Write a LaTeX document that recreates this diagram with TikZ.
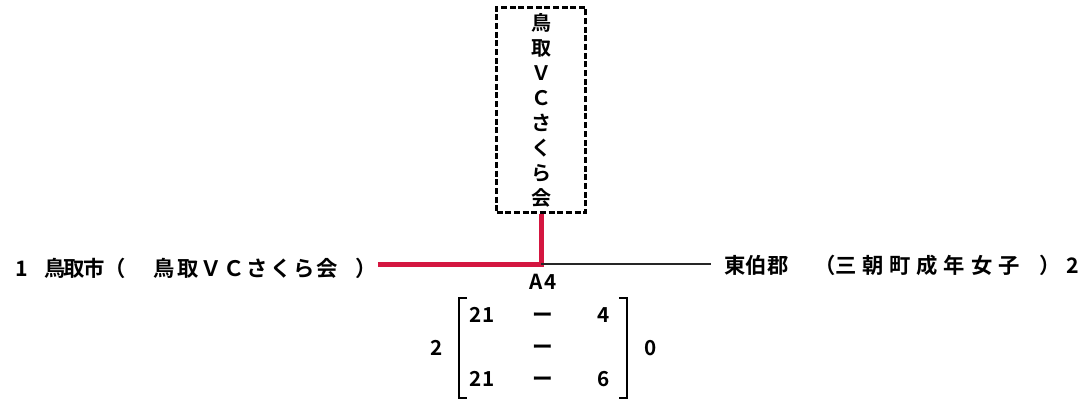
\documentclass[tikz,border=0pt]{standalone}
\usepackage{fontspec}
\setmainfont{Noto Sans CJK JP}[UprightFont=* Bold]
\usetikzlibrary{positioning}
\definecolor{tierred}{RGB}{212,22,64}

\begin{document}
\begin{tikzpicture}[x=0.75pt,y=-0.75pt,
  team/.style={inner sep=1pt,font=\fontsize{16}{18}\selectfont},
  scoretxt/.style={inner sep=0pt,font=\fontsize{15.5}{17}\selectfont},
  clubbox/.style={draw,dash pattern=on 4.5pt off 2pt,line width=1.6pt,inner sep=0pt,
    minimum width=66.75pt,minimum height=153.75pt,align=center,font=\fontsize{15}{18.75}\selectfont},
  winline/.style={tierred,line width=3.75pt},
  loseline/.style={black!85,line width=1.1pt},
  bracket/.style={line width=1.6pt}]
\useasboundingbox (0,0) rectangle (1089,403);
% teams
\node[team,anchor=west] (home) at (14,268) {1\hspace{0.75em}{\addfontfeature{LetterSpace=-8}鳥取市}（\hspace{1.3em}{\addfontfeature{LetterSpace=9}鳥取ＶＣさくら会}\hspace{0.8em}）};
\node[team,anchor=east] (away) at (1081,265) {東伯郡\hspace{1.2em}（{\addfontfeature{LetterSpace=27}三朝町成年女子}\hspace{0.94em}）\hspace{0.28em}2};
\node[clubbox] (club) at (541,110) {鳥\\取\\Ｖ\\Ｃ\\さ\\く\\ら\\会};
% lines
\coordinate (junction) at (541,264);
\draw[winline] (home.east |- junction) -- (junction) -- (club.south);
\draw[loseline,shorten >=9pt] (junction) -- (away.west |- junction);
% score
\node[scoretxt,minimum width=111pt,minimum height=75pt] (sets) at (543,348) {%
  \renewcommand{\arraystretch}{1.4}%
  \begin{tabular}{@{}ccc@{}}
  \makebox[33.75pt]{21} & \makebox[33.75pt]{ー} & \makebox[33.75pt]{4}\\
   & ー & \\
  21 & ー & 6
  \end{tabular}};
\node[scoretxt,above=6pt of sets] (match) {A\hspace{0.08em}4};
\node[scoretxt,left=12pt of sets] (homesets) {2};
\node[scoretxt,right=13pt of sets] (awaysets) {0};
\draw[bracket] ([xshift=6pt]sets.north west) -| (sets.south west) -- ++(6pt,0);
\draw[bracket] ([xshift=-6pt]sets.north east) -| (sets.south east) -- ++(-6pt,0);
\end{tikzpicture}
\end{document}
